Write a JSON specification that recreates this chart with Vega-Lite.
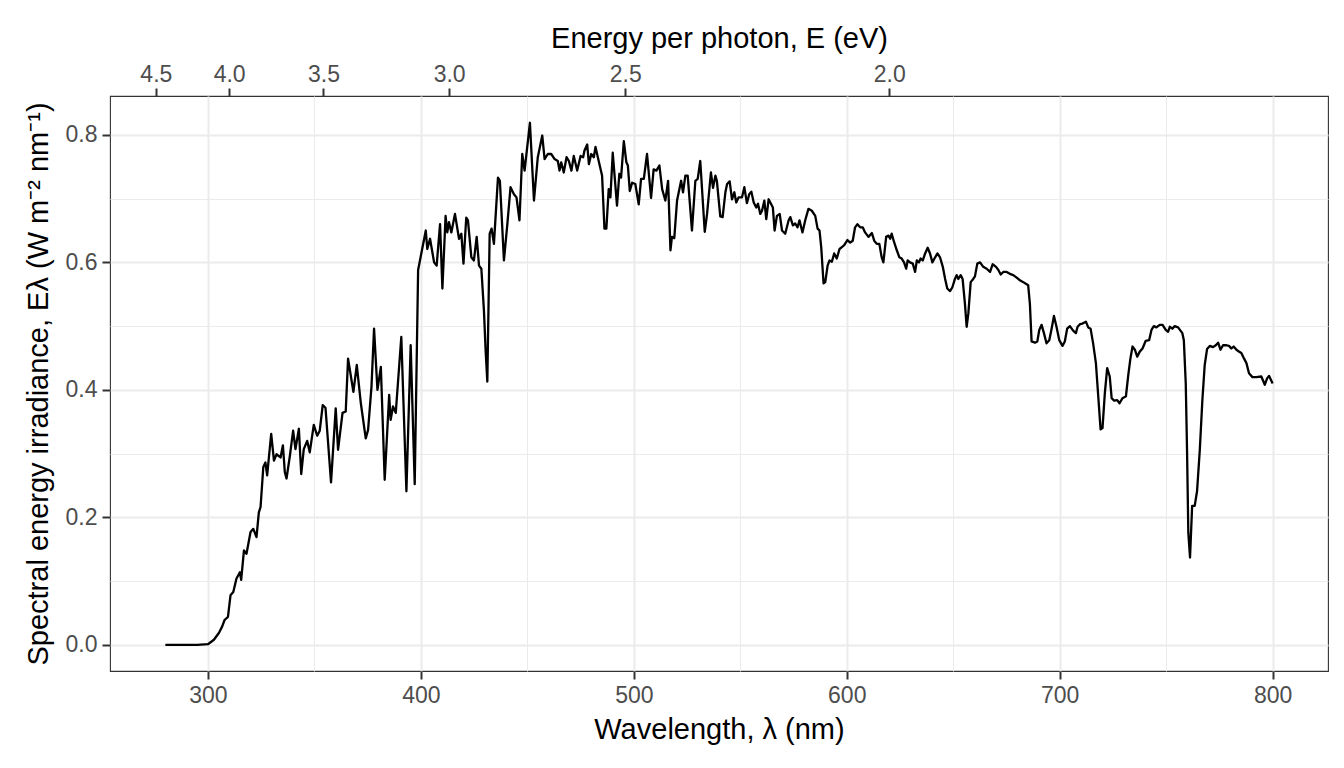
{
  "$schema": "https://vega.github.io/schema/vega-lite/v6.json",
  "width": 1218,
  "height": 575,
  "autosize": {"type": "none"},
  "padding": {"left": 110, "top": 96, "right": 16, "bottom": 97},
  "background": "white",
  "config": {
    "font": "Liberation Sans",
    "view": {"stroke": "#333333", "strokeWidth": 1.1},
    "axis": {
      "domain": false,
      "labelFont": "Liberation Sans",
      "labelFontSize": 23,
      "labelColor": "#4D4D4D",
      "tickColor": "#333333",
      "tickWidth": 2,
      "tickSize": 8,
      "titleFont": "Liberation Sans",
      "titleFontSize": 29,
      "titleFontWeight": "normal",
      "titleColor": "#000000",
      "gridColor": "#EBEBEB"
    }
  },
  "data": {
    "values": [
      {"wl": 280, "e": 0}, {"wl": 285, "e": 0}, {"wl": 290, "e": 0}, {"wl": 295, "e": 0},
      {"wl": 300, "e": 0.001}, {"wl": 302.8, "e": 0.008}, {"wl": 305.2, "e": 0.019}, {"wl": 306.7, "e": 0.029},
      {"wl": 307.8, "e": 0.039}, {"wl": 309.4, "e": 0.044}, {"wl": 310.6, "e": 0.078}, {"wl": 311.9, "e": 0.083},
      {"wl": 313.4, "e": 0.104}, {"wl": 315.0, "e": 0.114}, {"wl": 315.6, "e": 0.102}, {"wl": 316.9, "e": 0.148},
      {"wl": 318.1, "e": 0.143}, {"wl": 320.0, "e": 0.177}, {"wl": 321.3, "e": 0.182}, {"wl": 322.8, "e": 0.169},
      {"wl": 323.9, "e": 0.208}, {"wl": 324.7, "e": 0.216}, {"wl": 326.0, "e": 0.279}, {"wl": 327.0, "e": 0.286},
      {"wl": 327.8, "e": 0.266}, {"wl": 329.7, "e": 0.331}, {"wl": 331.0, "e": 0.289}, {"wl": 332.2, "e": 0.299},
      {"wl": 334.1, "e": 0.294}, {"wl": 335.2, "e": 0.313}, {"wl": 336.1, "e": 0.271}, {"wl": 336.9, "e": 0.261},
      {"wl": 338.5, "e": 0.297}, {"wl": 340.0, "e": 0.336}, {"wl": 341.1, "e": 0.307}, {"wl": 342.7, "e": 0.339},
      {"wl": 343.8, "e": 0.268}, {"wl": 345.0, "e": 0.307}, {"wl": 346.6, "e": 0.320}, {"wl": 347.8, "e": 0.302},
      {"wl": 349.7, "e": 0.345}, {"wl": 351.3, "e": 0.328}, {"wl": 352.5, "e": 0.336}, {"wl": 353.9, "e": 0.376},
      {"wl": 355.2, "e": 0.372}, {"wl": 357.8, "e": 0.255}, {"wl": 360.0, "e": 0.371}, {"wl": 361.1, "e": 0.306},
      {"wl": 363.2, "e": 0.364}, {"wl": 364.7, "e": 0.366}, {"wl": 365.8, "e": 0.449}, {"wl": 368.3, "e": 0.397},
      {"wl": 369.9, "e": 0.439}, {"wl": 371.8, "e": 0.379}, {"wl": 374.1, "e": 0.324}, {"wl": 375.2, "e": 0.337},
      {"wl": 376.8, "e": 0.405}, {"wl": 378.0, "e": 0.496}, {"wl": 379.6, "e": 0.400}, {"wl": 381.2, "e": 0.436},
      {"wl": 383.0, "e": 0.259}, {"wl": 385.1, "e": 0.392}, {"wl": 385.8, "e": 0.353}, {"wl": 386.9, "e": 0.374},
      {"wl": 388.2, "e": 0.364}, {"wl": 390.8, "e": 0.483}, {"wl": 393.2, "e": 0.241}, {"wl": 395.2, "e": 0.470},
      {"wl": 397.1, "e": 0.252}, {"wl": 398.7, "e": 0.588}, {"wl": 400.2, "e": 0.614}, {"wl": 402.3, "e": 0.650},
      {"wl": 403.0, "e": 0.621}, {"wl": 404.3, "e": 0.637}, {"wl": 406.2, "e": 0.600}, {"wl": 407.4, "e": 0.595},
      {"wl": 409.0, "e": 0.660}, {"wl": 410.1, "e": 0.559}, {"wl": 411.6, "e": 0.673}, {"wl": 412.4, "e": 0.647},
      {"wl": 413.2, "e": 0.663}, {"wl": 414.3, "e": 0.647}, {"wl": 416.0, "e": 0.676}, {"wl": 417.9, "e": 0.637},
      {"wl": 419.0, "e": 0.645}, {"wl": 420.0, "e": 0.598}, {"wl": 421.3, "e": 0.670}, {"wl": 422.1, "e": 0.666},
      {"wl": 423.7, "e": 0.608}, {"wl": 424.9, "e": 0.603}, {"wl": 426.2, "e": 0.640}, {"wl": 427.3, "e": 0.595},
      {"wl": 428.4, "e": 0.590}, {"wl": 429.6, "e": 0.525}, {"wl": 430.4, "e": 0.462}, {"wl": 431.2, "e": 0.413},
      {"wl": 432.3, "e": 0.645}, {"wl": 433.2, "e": 0.653}, {"wl": 434.3, "e": 0.629}, {"wl": 436.2, "e": 0.733},
      {"wl": 437.1, "e": 0.728}, {"wl": 439.0, "e": 0.603}, {"wl": 440.6, "e": 0.660}, {"wl": 442.1, "e": 0.718},
      {"wl": 443.7, "e": 0.707}, {"wl": 444.9, "e": 0.702}, {"wl": 446.3, "e": 0.666}, {"wl": 447.6, "e": 0.770},
      {"wl": 448.7, "e": 0.744}, {"wl": 451.2, "e": 0.819}, {"wl": 453.1, "e": 0.697}, {"wl": 454.9, "e": 0.765},
      {"wl": 457.0, "e": 0.799}, {"wl": 458.1, "e": 0.762}, {"wl": 459.6, "e": 0.770}, {"wl": 461.2, "e": 0.770},
      {"wl": 462.8, "e": 0.762}, {"wl": 464.3, "e": 0.759}, {"wl": 465.1, "e": 0.744}, {"wl": 465.9, "e": 0.757},
      {"wl": 467.1, "e": 0.741}, {"wl": 468.4, "e": 0.765}, {"wl": 469.5, "e": 0.759}, {"wl": 470.7, "e": 0.744},
      {"wl": 471.8, "e": 0.767}, {"wl": 473.4, "e": 0.744}, {"wl": 475.0, "e": 0.767}, {"wl": 476.2, "e": 0.765},
      {"wl": 476.8, "e": 0.775}, {"wl": 478.1, "e": 0.785}, {"wl": 478.9, "e": 0.754}, {"wl": 480.0, "e": 0.770},
      {"wl": 481.2, "e": 0.765}, {"wl": 482.0, "e": 0.781}, {"wl": 483.5, "e": 0.759}, {"wl": 485.1, "e": 0.736},
      {"wl": 486.2, "e": 0.653}, {"wl": 487.1, "e": 0.653}, {"wl": 488.2, "e": 0.715}, {"wl": 489.0, "e": 0.702},
      {"wl": 490.1, "e": 0.772}, {"wl": 492.1, "e": 0.689}, {"wl": 493.2, "e": 0.739}, {"wl": 494.0, "e": 0.733},
      {"wl": 495.3, "e": 0.790}, {"wl": 496.5, "e": 0.757}, {"wl": 497.2, "e": 0.752}, {"wl": 498.1, "e": 0.712},
      {"wl": 499.2, "e": 0.725}, {"wl": 500.7, "e": 0.723}, {"wl": 502.3, "e": 0.691}, {"wl": 503.4, "e": 0.731},
      {"wl": 504.7, "e": 0.731}, {"wl": 506.2, "e": 0.770}, {"wl": 508.1, "e": 0.701}, {"wl": 509.3, "e": 0.746},
      {"wl": 510.6, "e": 0.744}, {"wl": 512.0, "e": 0.752}, {"wl": 513.3, "e": 0.715}, {"wl": 514.8, "e": 0.697},
      {"wl": 516.1, "e": 0.728}, {"wl": 517.2, "e": 0.619}, {"wl": 517.9, "e": 0.640}, {"wl": 519.0, "e": 0.638},
      {"wl": 520.3, "e": 0.697}, {"wl": 522.2, "e": 0.728}, {"wl": 523.1, "e": 0.710}, {"wl": 524.2, "e": 0.736},
      {"wl": 525.3, "e": 0.736}, {"wl": 527.3, "e": 0.650}, {"wl": 528.9, "e": 0.728}, {"wl": 530.0, "e": 0.731},
      {"wl": 531.2, "e": 0.759}, {"wl": 533.3, "e": 0.648}, {"wl": 534.4, "e": 0.676}, {"wl": 536.2, "e": 0.741},
      {"wl": 537.2, "e": 0.717}, {"wl": 538.3, "e": 0.736}, {"wl": 539.0, "e": 0.728}, {"wl": 540.6, "e": 0.672},
      {"wl": 541.7, "e": 0.671}, {"wl": 543.0, "e": 0.710}, {"wl": 543.8, "e": 0.723}, {"wl": 545.0, "e": 0.727},
      {"wl": 546.1, "e": 0.699}, {"wl": 547.2, "e": 0.710}, {"wl": 548.1, "e": 0.694}, {"wl": 549.2, "e": 0.702},
      {"wl": 550.8, "e": 0.702}, {"wl": 551.9, "e": 0.718}, {"wl": 553.1, "e": 0.693}, {"wl": 554.2, "e": 0.707},
      {"wl": 555.2, "e": 0.711}, {"wl": 556.3, "e": 0.694}, {"wl": 557.5, "e": 0.686}, {"wl": 558.3, "e": 0.692},
      {"wl": 559.4, "e": 0.676}, {"wl": 560.2, "e": 0.681}, {"wl": 561.3, "e": 0.697}, {"wl": 562.2, "e": 0.668},
      {"wl": 563.3, "e": 0.699}, {"wl": 564.4, "e": 0.692}, {"wl": 565.3, "e": 0.686}, {"wl": 566.1, "e": 0.650},
      {"wl": 567.2, "e": 0.673}, {"wl": 568.5, "e": 0.676}, {"wl": 569.6, "e": 0.650}, {"wl": 571.1, "e": 0.645},
      {"wl": 572.7, "e": 0.666}, {"wl": 573.5, "e": 0.671}, {"wl": 574.7, "e": 0.658}, {"wl": 575.8, "e": 0.661},
      {"wl": 576.9, "e": 0.655}, {"wl": 577.8, "e": 0.666}, {"wl": 579.2, "e": 0.647}, {"wl": 580.5, "e": 0.666},
      {"wl": 582.0, "e": 0.684}, {"wl": 583.6, "e": 0.681}, {"wl": 585.2, "e": 0.673}, {"wl": 586.3, "e": 0.653},
      {"wl": 587.2, "e": 0.650}, {"wl": 588.0, "e": 0.624}, {"wl": 589.1, "e": 0.567}, {"wl": 589.9, "e": 0.569},
      {"wl": 591.0, "e": 0.595}, {"wl": 591.9, "e": 0.603}, {"wl": 593.0, "e": 0.601}, {"wl": 594.1, "e": 0.614},
      {"wl": 595.3, "e": 0.606}, {"wl": 596.6, "e": 0.621}, {"wl": 597.7, "e": 0.624}, {"wl": 598.8, "e": 0.627},
      {"wl": 600.3, "e": 0.635}, {"wl": 601.6, "e": 0.631}, {"wl": 602.8, "e": 0.634}, {"wl": 603.9, "e": 0.655},
      {"wl": 605.0, "e": 0.660}, {"wl": 606.3, "e": 0.655}, {"wl": 607.5, "e": 0.655}, {"wl": 608.6, "e": 0.647},
      {"wl": 610.2, "e": 0.640}, {"wl": 611.8, "e": 0.646}, {"wl": 612.9, "e": 0.634}, {"wl": 614.1, "e": 0.629},
      {"wl": 615.3, "e": 0.629}, {"wl": 616.4, "e": 0.608}, {"wl": 617.2, "e": 0.600}, {"wl": 618.5, "e": 0.640},
      {"wl": 619.6, "e": 0.642}, {"wl": 620.4, "e": 0.637}, {"wl": 621.1, "e": 0.645}, {"wl": 622.2, "e": 0.632},
      {"wl": 623.5, "e": 0.619}, {"wl": 624.7, "e": 0.608}, {"wl": 625.8, "e": 0.606}, {"wl": 626.9, "e": 0.600},
      {"wl": 627.9, "e": 0.590}, {"wl": 628.6, "e": 0.603}, {"wl": 629.7, "e": 0.600}, {"wl": 631.0, "e": 0.598},
      {"wl": 632.1, "e": 0.585}, {"wl": 632.9, "e": 0.603}, {"wl": 633.9, "e": 0.600}, {"wl": 634.7, "e": 0.606},
      {"wl": 635.7, "e": 0.603}, {"wl": 636.8, "e": 0.614}, {"wl": 638.0, "e": 0.623}, {"wl": 639.1, "e": 0.614},
      {"wl": 640.2, "e": 0.600}, {"wl": 641.5, "e": 0.608}, {"wl": 642.6, "e": 0.614}, {"wl": 643.8, "e": 0.608},
      {"wl": 645.1, "e": 0.593}, {"wl": 646.2, "e": 0.574}, {"wl": 647.2, "e": 0.559}, {"wl": 648.5, "e": 0.555},
      {"wl": 649.6, "e": 0.561}, {"wl": 650.8, "e": 0.574}, {"wl": 651.6, "e": 0.580}, {"wl": 652.4, "e": 0.574},
      {"wl": 653.5, "e": 0.580}, {"wl": 654.4, "e": 0.574}, {"wl": 655.5, "e": 0.535}, {"wl": 656.3, "e": 0.499},
      {"wl": 657.1, "e": 0.520}, {"wl": 658.2, "e": 0.569}, {"wl": 659.4, "e": 0.574}, {"wl": 660.2, "e": 0.578},
      {"wl": 661.3, "e": 0.598}, {"wl": 662.6, "e": 0.600}, {"wl": 664.1, "e": 0.593}, {"wl": 665.7, "e": 0.590},
      {"wl": 667.3, "e": 0.585}, {"wl": 668.5, "e": 0.597}, {"wl": 670.1, "e": 0.593}, {"wl": 671.2, "e": 0.588},
      {"wl": 672.3, "e": 0.581}, {"wl": 673.5, "e": 0.585}, {"wl": 675.1, "e": 0.585}, {"wl": 676.6, "e": 0.582},
      {"wl": 678.2, "e": 0.580}, {"wl": 679.8, "e": 0.576}, {"wl": 681.3, "e": 0.572}, {"wl": 682.9, "e": 0.569},
      {"wl": 685.2, "e": 0.564}, {"wl": 686.0, "e": 0.535}, {"wl": 686.8, "e": 0.476}, {"wl": 688.4, "e": 0.474},
      {"wl": 689.5, "e": 0.476}, {"wl": 690.4, "e": 0.494}, {"wl": 691.5, "e": 0.502}, {"wl": 692.6, "e": 0.489},
      {"wl": 693.8, "e": 0.473}, {"wl": 695.1, "e": 0.478}, {"wl": 696.2, "e": 0.496}, {"wl": 697.3, "e": 0.516},
      {"wl": 698.5, "e": 0.499}, {"wl": 699.8, "e": 0.478}, {"wl": 701.3, "e": 0.469}, {"wl": 702.4, "e": 0.476},
      {"wl": 703.5, "e": 0.496}, {"wl": 704.8, "e": 0.500}, {"wl": 706.3, "e": 0.493}, {"wl": 707.6, "e": 0.489},
      {"wl": 708.4, "e": 0.499}, {"wl": 709.5, "e": 0.503}, {"wl": 710.7, "e": 0.504}, {"wl": 712.3, "e": 0.507},
      {"wl": 713.4, "e": 0.498}, {"wl": 714.5, "e": 0.496}, {"wl": 715.7, "e": 0.473}, {"wl": 717.0, "e": 0.442},
      {"wl": 718.1, "e": 0.390}, {"wl": 719.2, "e": 0.338}, {"wl": 720.1, "e": 0.340}, {"wl": 721.2, "e": 0.395},
      {"wl": 722.3, "e": 0.434}, {"wl": 723.5, "e": 0.421}, {"wl": 724.4, "e": 0.387}, {"wl": 725.6, "e": 0.383},
      {"wl": 727.0, "e": 0.384}, {"wl": 728.1, "e": 0.379}, {"wl": 729.5, "e": 0.387}, {"wl": 731.1, "e": 0.390},
      {"wl": 732.2, "e": 0.423}, {"wl": 733.2, "e": 0.449}, {"wl": 734.2, "e": 0.468}, {"wl": 735.3, "e": 0.463},
      {"wl": 736.4, "e": 0.452}, {"wl": 737.6, "e": 0.460}, {"wl": 738.9, "e": 0.465}, {"wl": 740.4, "e": 0.477},
      {"wl": 742.0, "e": 0.478}, {"wl": 743.1, "e": 0.494}, {"wl": 744.2, "e": 0.500}, {"wl": 745.4, "e": 0.498},
      {"wl": 747.0, "e": 0.502}, {"wl": 748.3, "e": 0.502}, {"wl": 749.8, "e": 0.494}, {"wl": 750.9, "e": 0.491},
      {"wl": 751.7, "e": 0.499}, {"wl": 752.9, "e": 0.496}, {"wl": 754.0, "e": 0.500}, {"wl": 755.6, "e": 0.498},
      {"wl": 756.7, "e": 0.493}, {"wl": 757.6, "e": 0.489}, {"wl": 758.3, "e": 0.478}, {"wl": 759.2, "e": 0.410},
      {"wl": 759.8, "e": 0.306}, {"wl": 760.4, "e": 0.176}, {"wl": 761.2, "e": 0.137}, {"wl": 762.2, "e": 0.218},
      {"wl": 763.4, "e": 0.218}, {"wl": 764.5, "e": 0.241}, {"wl": 765.8, "e": 0.306}, {"wl": 767.0, "e": 0.384},
      {"wl": 768.1, "e": 0.439}, {"wl": 769.2, "e": 0.464}, {"wl": 770.5, "e": 0.469}, {"wl": 772.0, "e": 0.467},
      {"wl": 773.3, "e": 0.470}, {"wl": 774.4, "e": 0.474}, {"wl": 775.5, "e": 0.463}, {"wl": 776.7, "e": 0.470},
      {"wl": 778.3, "e": 0.470}, {"wl": 779.5, "e": 0.469}, {"wl": 780.6, "e": 0.465}, {"wl": 781.7, "e": 0.468},
      {"wl": 783.0, "e": 0.463}, {"wl": 784.2, "e": 0.460}, {"wl": 785.3, "e": 0.458}, {"wl": 786.6, "e": 0.449},
      {"wl": 787.7, "e": 0.442}, {"wl": 788.9, "e": 0.426}, {"wl": 790.5, "e": 0.420}, {"wl": 792.3, "e": 0.420},
      {"wl": 794.7, "e": 0.421}, {"wl": 796.3, "e": 0.408}, {"wl": 797.4, "e": 0.418}, {"wl": 798.3, "e": 0.422},
      {"wl": 800.0, "e": 0.410}
    ]
  },
  "layer": [
    {
      "mark": {"type": "line", "color": "#000000", "strokeWidth": 2.3, "strokeJoin": "round"},
      "encoding": {
        "x": {
          "field": "wl",
          "type": "quantitative",
          "scale": {"domain": [254, 826], "nice": false, "zero": false},
          "axis": {
            "orient": "bottom",
            "title": "Wavelength, λ (nm)",
            "values": [300, 350, 400, 450, 500, 550, 600, 650, 700, 750, 800],
            "labelExpr": "datum.value % 100 === 0 ? datum.label : ''",
            "tickOpacity": {"condition": {"test": "datum.value % 100 === 0", "value": 1}, "value": 0},
            "gridWidth": {"condition": {"test": "datum.value % 100 === 0", "value": 2}, "value": 1},
            "labelPadding": 5,
            "titlePadding": 8
          }
        },
        "y": {
          "field": "e",
          "type": "quantitative",
          "scale": {"domain": [-0.041, 0.861], "nice": false, "zero": false},
          "axis": {
            "title": "Spectral energy irradiance, Eλ (W m⁻² nm⁻¹)",
            "values": [0, 0.1, 0.2, 0.3, 0.4, 0.5, 0.6, 0.7, 0.8],
            "labelExpr": "round(datum.value * 10) % 2 === 0 ? format(datum.value, '.1f') : ''",
            "tickOpacity": {"condition": {"test": "round(datum.value * 10) % 2 === 0", "value": 1}, "value": 0},
            "gridWidth": {"condition": {"test": "round(datum.value * 10) % 2 === 0", "value": 2}, "value": 1},
            "labelPadding": 5,
            "titlePadding": 12
          }
        }
      }
    },
    {
      "mark": {"type": "point", "opacity": 0},
      "encoding": {
        "x": {
          "field": "wl",
          "type": "quantitative",
          "axis": {
            "orient": "top",
            "title": "Energy per photon, E (eV)",
            "values": [275.52, 309.96, 354.24, 413.28, 495.94, 619.92],
            "labelExpr": "format(1239.84 / datum.value, '.1f')",
            "grid": false,
            "labelPadding": 2,
            "titlePadding": 10
          }
        },
        "y": {"field": "e", "type": "quantitative", "axis": null}
      }
    }
  ],
  "resolve": {"axis": {"x": "independent", "y": "independent"}}
}
